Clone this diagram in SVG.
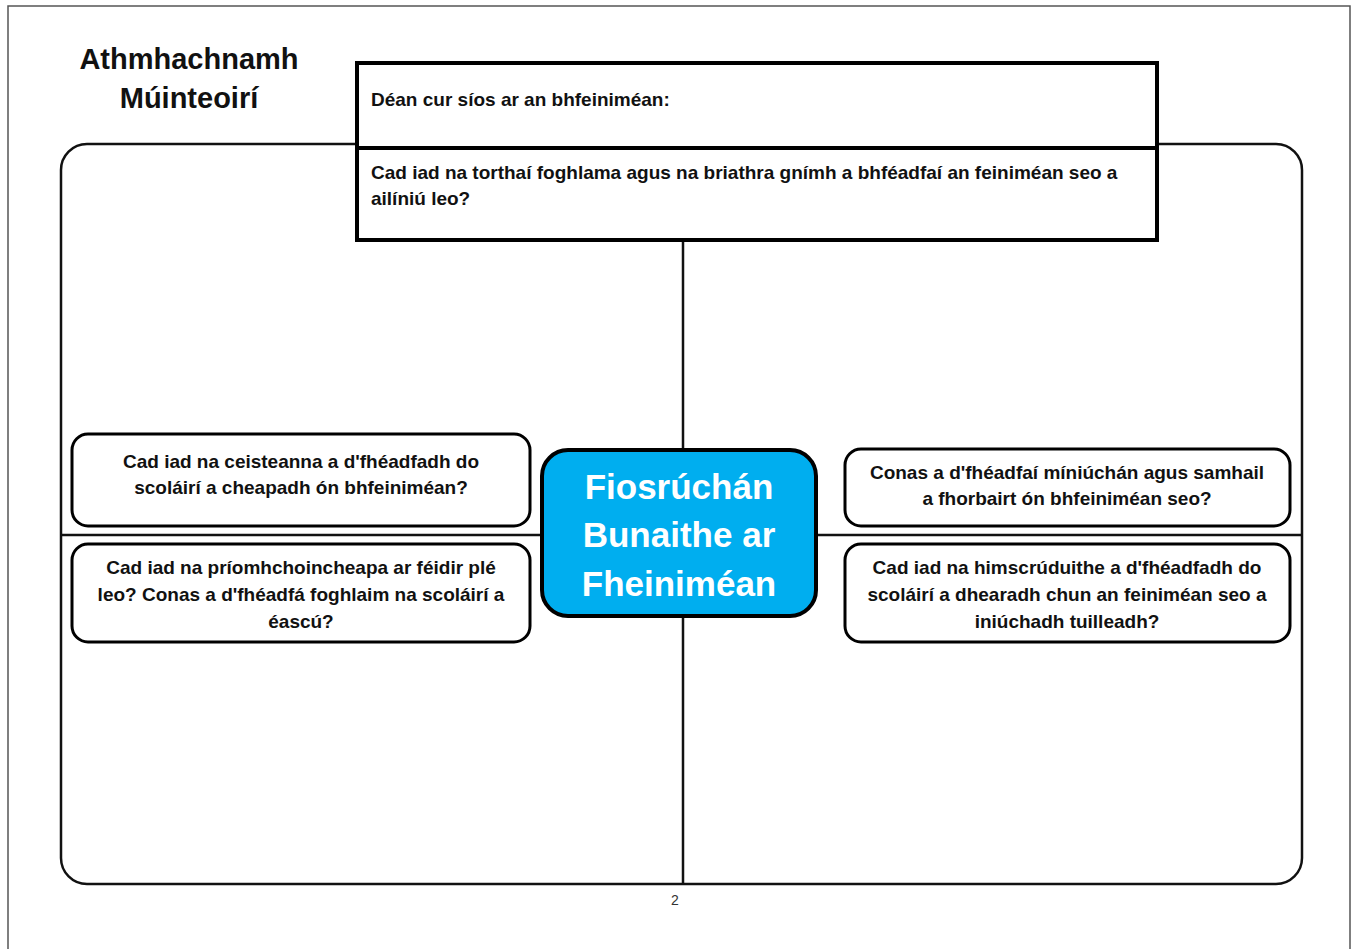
<svg xmlns="http://www.w3.org/2000/svg" width="1354" height="949" viewBox="0 0 1354 949">
<style>
text{font-family:"Liberation Sans",Arial,sans-serif;font-weight:bold;fill:#111}
.q{font-size:19px;text-anchor:middle}
.t{font-size:19px}
.c{font-size:35px;text-anchor:middle;fill:#fff}
.box{fill:#fff;stroke:#000;stroke-width:3}
.ln{stroke:#111;stroke-width:2.5;fill:none}
</style>
<rect x="0" y="0" width="1354" height="949" fill="#fff"/>
<rect x="8" y="6" width="1342" height="960" fill="#fff" stroke="#555" stroke-width="1.5"/>
<g id="title">
<text x="189" y="69" font-size="29" text-anchor="middle">Athmhachnamh</text>
<text x="189" y="108" font-size="29" text-anchor="middle">Múinteoirí</text>
</g>
<g id="connectors">
<rect x="61" y="144" width="1241" height="740" rx="26" class="ln" stroke-width="3"/>
<line x1="683" y1="240" x2="683" y2="884" class="ln"/>
<line x1="61" y1="535" x2="1302" y2="535" class="ln"/>
</g>
<g id="top">
<rect x="357" y="63" width="800" height="177" fill="#fff" stroke="#000" stroke-width="4"/>
<line x1="357" y1="148" x2="1157" y2="148" stroke="#000" stroke-width="4"/>
<text x="371" y="106" class="t">Déan cur síos ar an bhfeiniméan:</text>
<text x="371" y="179" class="t">Cad iad na torthaí foghlama agus na briathra gnímh a bhféadfaí an feiniméan seo a</text>
<text x="371" y="205" class="t">ailíniú leo?</text>
</g>
<g id="n1">
<rect x="72" y="434" width="458" height="92" rx="16" class="box"/>
<text x="301" y="468" class="q">Cad iad na ceisteanna a d'fhéadfadh do</text>
<text x="301" y="494" class="q">scoláirí a cheapadh ón bhfeiniméan?</text>
</g>
<g id="n2">
<rect x="72" y="544" width="458" height="98" rx="16" class="box"/>
<text x="301" y="574" class="q">Cad iad na príomhchoincheapa ar féidir plé</text>
<text x="301" y="601" class="q">leo? Conas a d'fhéadfá foghlaim na scoláirí a</text>
<text x="301" y="628" class="q">éascú?</text>
</g>
<g id="n3">
<rect x="845" y="449" width="445" height="77" rx="16" class="box"/>
<text x="1067" y="479" class="q">Conas a d'fhéadfaí míniúchán agus samhail</text>
<text x="1067" y="505" class="q">a fhorbairt ón bhfeiniméan seo?</text>
</g>
<g id="n4">
<rect x="845" y="544" width="445" height="98" rx="16" class="box"/>
<text x="1067" y="574" class="q">Cad iad na himscrúduithe a d'fhéadfadh do</text>
<text x="1067" y="601" class="q">scoláirí a dhearadh chun an feiniméan seo a</text>
<text x="1067" y="628" class="q">iniúchadh tuilleadh?</text>
</g>
<g id="center">
<rect x="542" y="450" width="274" height="166" rx="26" fill="#00AEEF" stroke="#000" stroke-width="4"/>
<text x="679" y="499" class="c">Fiosrúchán</text>
<text x="679" y="547" class="c">Bunaithe ar</text>
<text x="679" y="596" class="c">Fheiniméan</text>
</g>
<text x="675" y="905" font-size="14" text-anchor="middle" style="font-weight:normal;fill:#333">2</text>
</svg>
